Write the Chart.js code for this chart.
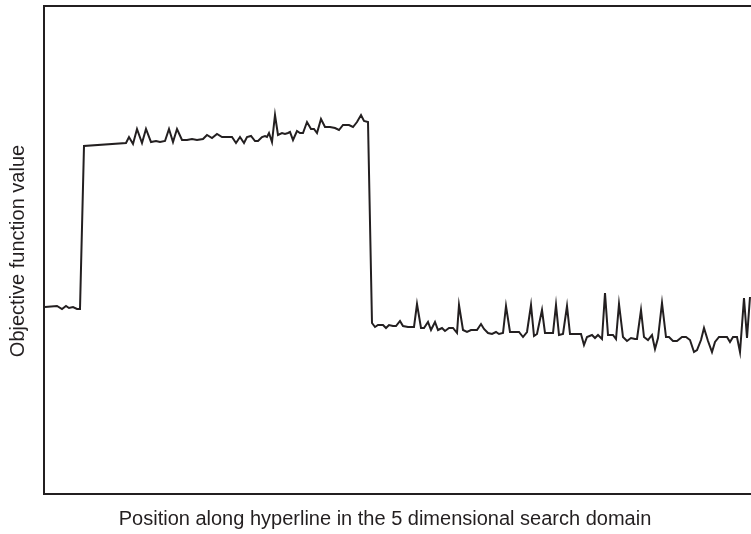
<!DOCTYPE html>
<html>
<head>
<meta charset="utf-8">
<script src="https://cdn.jsdelivr.net/npm/chart.js@4/dist/chart.umd.min.js"></script>
<style>
  html, body { margin: 0; padding: 0; background: #fff; }
  #wrap { width: 751px; height: 534px; }
</style>
</head>
<body>
<div id="wrap"><canvas id="chart" width="751" height="534"></canvas></div>
<script>
  // Posição ao longo da hiperlinha (unidades do eixo, 0..707) e valor da função objetivo (0..488)
  var positions = [
    1, 13, 18, 22, 25, 29, 33, 36,
    40, 82, 85, 89, 93, 98, 102, 107, 112, 116, 121, 125, 129, 133, 138, 143, 148, 153, 159, 163, 168,
    173, 178, 183, 188, 192, 196, 200, 203, 207, 211, 214, 218, 221, 223, 225, 228, 231, 234, 238, 241,
    244, 246, 249, 253, 256, 259, 263, 267, 270, 273, 277, 281, 286, 291, 295, 299, 305, 309, 313, 317,
    320, 324,
    328, 331, 334, 339, 342, 345, 349, 352, 356, 359, 364, 370, 373, 377, 380, 384, 387, 391, 394, 398,
    401, 405, 409, 413, 415, 419, 423, 427, 433, 437, 440, 444, 448, 452, 455, 459, 462, 466, 470, 475,
    479, 483, 487, 490, 493, 498, 501, 505, 509, 512, 515, 519, 523, 526, 531, 537, 540, 543, 548, 551,
    554, 558, 561, 564, 569, 572, 575, 579, 583, 587, 591, 593, 597, 600, 604, 608, 611, 614, 618, 622,
    625, 629, 633, 638, 642, 646, 650, 653, 657, 660, 664, 668, 671, 675, 679, 683, 686, 689, 693, 696,
    700, 703, 706
  ];
  var objectiveValues = [
    187, 188, 185, 188, 186, 187, 185, 185,
    348, 351, 357, 350, 365, 351, 365, 352, 353, 352, 353, 365, 352, 365, 354, 354, 355, 354, 355, 359, 356,
    360, 357, 357, 357, 351, 357, 351, 357, 358, 353, 353, 357, 358, 357, 361, 352, 379, 359, 361, 360,
    361, 362, 354, 363, 361, 361, 372, 365, 365, 361, 375, 367, 367, 366, 364, 369, 369, 367, 372, 379,
    373, 372,
    171, 167, 169, 169, 166, 169, 168, 168, 173, 168, 167, 167, 190, 166, 166, 172, 164, 172, 164, 166,
    163, 166, 166, 161, 189, 164, 162, 164, 164, 170, 165, 161, 160, 162, 160, 161, 188, 162, 162, 162,
    157, 162, 189, 158, 160, 184, 161, 161, 161, 189, 159, 160, 188, 160, 160, 160, 149, 157, 159, 156,
    159, 155, 201, 159, 159, 155, 190, 157, 153, 156, 155, 155, 184, 157, 154, 159, 145, 156, 191, 157,
    157, 153, 153, 157, 157, 154, 142, 144, 154, 166, 153, 142, 152, 157, 157, 157, 152, 157, 157, 142,
    196, 156, 197
  ];

  var xTitle = "Position along hyperline in the 5 dimensional search domain";
  var yTitle = "Objective function value";

  var INK = "#231f20";
  var FONT = "20px 'Liberation Sans', Arial, Helvetica, sans-serif";

  // Moldura (topo, esquerda, base) e títulos dos eixos desenhados à mão
  var framePlugin = {
    id: "frame",
    afterDraw: function (chart) {
      var a = chart.chartArea, ctx = chart.ctx;
      ctx.save();
      ctx.strokeStyle = INK;
      ctx.lineWidth = 2;
      ctx.beginPath();
      ctx.moveTo(chart.width, a.top);
      ctx.lineTo(a.left, a.top);
      ctx.lineTo(a.left, a.bottom);
      ctx.lineTo(chart.width, a.bottom);
      ctx.stroke();

      ctx.fillStyle = INK;
      ctx.font = FONT;
      ctx.textAlign = "center";
      ctx.textBaseline = "middle";
      ctx.fillText(xTitle, 385, a.bottom + 25);

      ctx.translate(18, 251);
      ctx.rotate(-Math.PI / 2);
      ctx.fillText(yTitle, 0, 0);
      ctx.restore();
    }
  };

  new Chart(document.getElementById("chart"), {
    type: "line",
    data: {
      datasets: [{
        data: positions.map(function (p, i) { return { x: p, y: objectiveValues[i] }; }),
        borderColor: INK,
        borderWidth: 2,
        pointRadius: 0,
        tension: 0,
        fill: false
      }]
    },
    options: {
      responsive: false,
      animation: false,
      layout: { padding: { left: 44, top: 6, right: 0, bottom: 40 } },
      plugins: { legend: { display: false }, tooltip: { enabled: false } },
      scales: {
        x: { type: "linear", min: 0, max: 707, display: false },
        y: { min: 0, max: 488, display: false }
      }
    },
    plugins: [framePlugin]
  });
</script>
</body>
</html>
